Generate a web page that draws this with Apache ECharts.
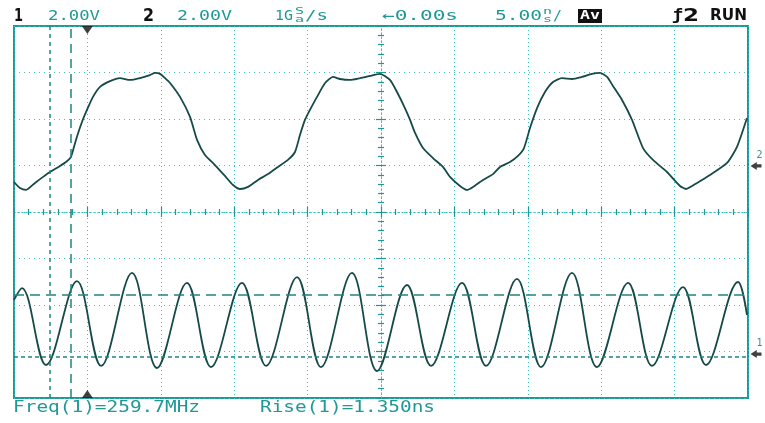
<!DOCTYPE html>
<html>
<head>
<meta charset="utf-8">
<script src="https://cdn.jsdelivr.net/npm/echarts@6/dist/echarts.min.js"></script>
<style>
  html, body { margin: 0; padding: 0; background: #ffffff; }
  #scope { width: 765px; height: 423px; }
</style>
</head>
<body>
<div id="scope"></div>
<script>
// Channel 2 (upper trace): time in ns, screen level in volts (2 V/div)
const ch2Time = [-25.0,-24.59,-24.18,-23.57,-23.02,-22.55,-21.87,-21.46,-21.12,-20.78,-20.37,-20.03,-19.62,-19.14,-18.46,-17.78,-17.10,-16.42,-15.74,-15.40,-15.05,-14.71,-14.37,-13.69,-13.01,-12.53,-11.99,-11.31,-10.63,-10.08,-9.60,-9.06,-8.38,-7.70,-7.02,-6.34,-5.86,-5.52,-5.18,-4.84,-4.36,-3.81,-3.27,-2.79,-2.11,-1.43,-0.75,-0.07,0.61,1.09,1.63,1.98,2.32,2.86,3.54,4.22,4.70,5.38,5.86,6.27,6.95,7.63,8.11,8.79,9.33,9.74,10.15,10.63,11.17,11.72,12.33,13.01,13.69,14.37,14.92,15.40,15.80,16.42,17.10,17.85,18.53,19.48,20.37,20.78,21.53,22.41,23.57,24.25,24.93];
const ch2Volt = [1.29,1.03,0.95,1.25,1.51,1.72,1.98,2.15,2.37,3.10,3.87,4.39,4.95,5.38,5.63,5.76,5.68,5.76,5.89,5.98,5.94,5.76,5.55,4.95,4.09,3.10,2.45,2.02,1.55,1.16,0.99,1.08,1.38,1.63,1.94,2.24,2.58,3.31,3.96,4.39,4.95,5.55,5.81,5.72,5.68,5.76,5.85,5.94,5.68,5.16,4.47,3.96,3.40,2.75,2.32,1.94,1.51,1.12,0.95,1.08,1.38,1.63,1.94,2.15,2.41,2.75,3.61,4.47,5.16,5.59,5.76,5.72,5.81,5.94,5.98,5.81,5.42,4.82,3.96,2.75,2.24,1.72,1.12,0.99,1.25,1.59,2.11,2.80,4.04];

// Channel 1 (lower trace, ~260 MHz clock): alternating crests and troughs
const ch1Time = [-25.0,-24.46,-22.82,-20.71,-19.07,-16.96,-15.26,-13.22,-11.58,-9.47,-7.83,-5.72,-4.09,-1.98,-0.27,1.77,3.41,5.52,7.15,9.26,10.90,13.01,14.71,16.83,18.46,20.57,22.14,24.32,24.93];
const ch1Volt = [-3.78,-3.27,-6.58,-2.97,-6.62,-2.62,-6.71,-3.05,-6.67,-3.05,-6.62,-2.80,-6.67,-2.62,-6.84,-3.14,-6.62,-3.05,-6.62,-2.88,-6.67,-2.62,-6.67,-3.05,-6.62,-3.23,-6.58,-3.01,-4.43];

// Measurement cursors
const cursorTimes = [-22.55, -21.12];
const cursorLevels = [-3.57, -6.24];

// Trigger position and channel ground references
const triggerTime = [-20];
const groundLevels = [1.98, -6.11];
const groundNames = ['2', '1'];

// Status line readouts
const chanScale = ['2.00V', '2.00V'];
const sampleRate = '1G';
const delayText = '←0.00s';
const timeBase = '5.00';
const freqText = 'Freq(1)=259.7MHz';
const riseText = 'Rise(1)=1.350ns';

const TEAL = '#1f9896';
const GRID = '#36c4c3';
const TRACE = '#164a48';
const CURSOR = '#22827f';
const MONO = "'DejaVu Sans Mono', monospace";

const chart = echarts.init(document.getElementById('scope'), null, { renderer: 'canvas' });

const measureCtx = document.createElement('canvas').getContext('2d');
function stretchedText(str, x0, x1, yc, size, color, bold, family) {
  const font = (bold ? 'bold ' : '') + size + 'px ' + (family || MONO);
  measureCtx.font = font;
  const w = measureCtx.measureText(str).width || 1;
  return {
    type: 'text', x: x0, y: yc, scaleX: (x1 - x0) / w, silent: true,
    style: { text: str, font: font, fill: color, align: 'left', verticalAlign: 'middle' }
  };
}

const graphics = [
  stretchedText('1', 14, 23, 16, 18, '#111', true, "'DejaVu Sans', sans-serif"),
  stretchedText(chanScale[0], 48, 100, 16, 14, TEAL, false),
  stretchedText('2', 143, 154, 16, 18, '#111', true, "'DejaVu Sans', sans-serif"),
  stretchedText(chanScale[1], 177, 232, 16, 14, TEAL, false),
  stretchedText(sampleRate, 275, 293, 16, 14, TEAL, false),
  stretchedText('S', 295, 304, 12, 8, TEAL, false),
  stretchedText('a', 295, 304, 20, 8, TEAL, false),
  stretchedText('/s', 305, 328, 16, 14, TEAL, false),
  stretchedText(delayText, 382, 458, 16, 14, TEAL, false),
  stretchedText(timeBase, 495, 542, 16, 14, TEAL, false),
  stretchedText('n', 543, 552, 12, 8, TEAL, false),
  stretchedText('s', 543, 552, 20, 8, TEAL, false),
  stretchedText('/', 553, 562, 16, 14, TEAL, false),
  { type: 'rect', shape: { x: 578, y: 9, width: 24, height: 14 }, style: { fill: '#111' }, silent: true },
  stretchedText('Av', 580, 600, 16, 12, '#ffffff', true),
  stretchedText('ƒ', 672, 683, 16, 15, '#111', true),
  stretchedText('2', 683, 699, 16, 18, '#111', true, "'DejaVu Sans', sans-serif"),
  stretchedText('RUN', 710, 747, 16, 15, '#111', true, "'DejaVu Sans', sans-serif"),
  stretchedText(freqText, 13, 200, 408, 15, TEAL, false),
  stretchedText(riseText, 260, 435, 408, 15, TEAL, false)
];

function centerAxis(position, extra) {
  return Object.assign({
    type: 'value',
    position: position,
    axisLine: { show: true, onZero: true, lineStyle: { color: GRID, width: 1, type: [1, 3] } },
    axisTick: { show: true, inside: true, length: 5, lineStyle: { color: TEAL, width: 1.2 } },
    minorTick: { show: true, splitNumber: 5, length: 3, lineStyle: { color: TEAL, width: 1.2 } },
    axisLabel: { show: false },
    splitLine: { show: false }
  }, extra);
}

const option = {
  animation: false,
  backgroundColor: '#ffffff',
  grid: { left: 14, top: 26, right: 17, bottom: 25, show: true, borderColor: TEAL, borderWidth: 2, containLabel: false },
  xAxis: [
    centerAxis('bottom', { min: -25, max: 25, interval: 5,
      splitLine: { show: true, lineStyle: { color: GRID, width: 1, type: [1, 3] } } }),
    centerAxis('top', { min: -25, max: 25, interval: 5 })
  ],
  yAxis: [
    centerAxis('left', { min: -8, max: 8, interval: 2,
      splitLine: { show: true, lineStyle: { color: GRID, width: 1, type: [1, 4] } } }),
    centerAxis('right', { min: -8, max: 8, interval: 2 })
  ],
  series: [
    {
      name: 'CH2', type: 'line', xAxisIndex: 0, yAxisIndex: 0,
      data: ch2Time.map((t, i) => [t, ch2Volt[i]]),
      showSymbol: false, smooth: 0.2,
      lineStyle: { color: TRACE, width: 1.8 }
    },
    {
      name: 'CH1', type: 'line', xAxisIndex: 0, yAxisIndex: 0,
      data: ch1Time.map((t, i) => [t, ch1Volt[i]]),
      showSymbol: false, smooth: 0.36,
      lineStyle: { color: TRACE, width: 1.8 },
      markLine: {
        silent: true, symbol: 'none', animation: false,
        label: { show: false },
        data: [
          { xAxis: cursorTimes[0], lineStyle: { color: CURSOR, width: 1.5, type: [4, 4] } },
          { xAxis: cursorTimes[1], lineStyle: { color: CURSOR, width: 1.5, type: [9, 6] } },
          { yAxis: cursorLevels[0], lineStyle: { color: CURSOR, width: 1.5, type: [10, 6] } },
          { yAxis: cursorLevels[1], lineStyle: { color: CURSOR, width: 1.5, type: [4, 3] } }
        ]
      }
    },
    {
      name: 'trigger', type: 'scatter', clip: false, silent: true,
      data: [
        { value: [triggerTime[0], 8], symbolRotate: 180, symbolOffset: [0, 4] },
        { value: [triggerTime[0], -8], symbolRotate: 0, symbolOffset: [0, -4] }
      ],
      symbol: 'triangle', symbolSize: [11, 8],
      itemStyle: { color: '#111' }
    },
    {
      name: 'ground', type: 'scatter', clip: false, silent: true,
      data: groundLevels.map((v, i) => ({ value: [25, v], name: groundNames[i] })),
      symbol: 'path://M0,5 L8,0 L8,3 L14,3 L14,7 L8,7 L8,10 Z',
      symbolSize: [11, 8], symbolOffset: [8, 0],
      itemStyle: { color: '#111' },
      label: {
        show: true, formatter: '{b}', position: [6, -12],
        fontSize: 10, color: '#16706e', fontFamily: MONO
      }
    }
  ],
  graphic: graphics
};

chart.setOption(option);
</script>
</body>
</html>
